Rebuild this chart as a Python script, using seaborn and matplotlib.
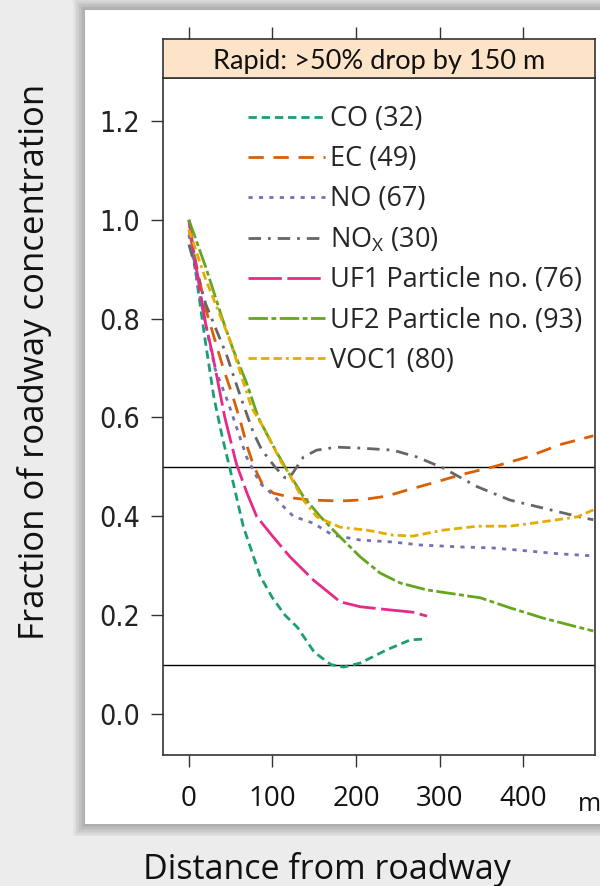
import pandas as pd
import seaborn as sns
import matplotlib.pyplot as plt
from matplotlib.patches import Rectangle

# values (distance in m, fraction of roadway value)
co_dist = [0, 10, 20, 30, 40, 50, 65, 85, 100, 115, 130, 150, 170, 185, 205, 237, 265, 285]
co_frac = [1.0, 0.87, 0.75, 0.64, 0.56, 0.49, 0.38, 0.28, 0.235, 0.2, 0.175, 0.125, 0.1, 0.095, 0.103, 0.13, 0.15, 0.152]

ec_dist = [0, 20, 40, 53, 62, 70, 78, 88, 101, 125, 145, 181, 205, 237, 261, 297, 325, 364, 405, 444, 484]
ec_frac = [0.98, 0.82, 0.706, 0.64, 0.59, 0.54, 0.5, 0.465, 0.447, 0.437, 0.433, 0.431, 0.433, 0.441, 0.453, 0.47, 0.484, 0.5, 0.52, 0.545, 0.563]

no_dist = [0, 15, 31, 47, 58, 69, 85, 101, 113, 125, 149, 172, 205, 244, 277, 325, 364, 405, 444, 484]
no_frac = [0.97, 0.83, 0.70, 0.63, 0.575, 0.52, 0.467, 0.443, 0.42, 0.40, 0.386, 0.362, 0.352, 0.348, 0.342, 0.338, 0.336, 0.33, 0.324, 0.32]

nox_dist = [0, 20, 45, 61, 77, 87, 103, 115, 120, 128, 137, 153, 177, 205, 244, 273, 304, 345, 384, 428, 472, 484]
nox_frac = [0.95, 0.83, 0.727, 0.646, 0.57, 0.535, 0.5, 0.478, 0.477, 0.497, 0.52, 0.534, 0.54, 0.538, 0.534, 0.52, 0.498, 0.46, 0.433, 0.415, 0.397, 0.393]

uf1_dist = [0, 10, 20, 28, 43, 57, 70, 81, 101, 121, 149, 181, 205, 244, 268, 285]
uf1_frac = [1.0, 0.89, 0.79, 0.73, 0.6, 0.505, 0.445, 0.4, 0.358, 0.318, 0.271, 0.227, 0.217, 0.21, 0.206, 0.198]

uf2_dist = [0, 21, 40, 53, 69, 83, 99, 115, 137, 157, 181, 205, 229, 253, 285, 325, 349, 384, 424, 465, 484]
uf2_frac = [1.0, 0.9, 0.8, 0.737, 0.67, 0.6, 0.548, 0.5, 0.44, 0.4, 0.358, 0.318, 0.285, 0.265, 0.251, 0.241, 0.235, 0.215, 0.194, 0.176, 0.168]

voc_dist = [0, 20, 49, 75, 91, 111, 117, 137, 153, 181, 213, 244, 268, 304, 345, 384, 424, 465, 484]
voc_frac = [0.98, 0.88, 0.757, 0.62, 0.575, 0.508, 0.494, 0.433, 0.399, 0.378, 0.372, 0.362, 0.36, 0.372, 0.38, 0.38, 0.389, 0.399, 0.413]

labels = ["CO (32)", "EC (49)", "NO (67)", "NO$_X$ (30)",
          "UF1 Particle no. (76)", "UF2 Particle no. (93)", "VOC1 (80)"]
colors = ["#1b9e77", "#d95f02", "#7570b3", "#666666", "#e7298a", "#66a61e", "#e6ab02"]
dash_list = [(6, 3.5), (11, 7), (3, 4.5), (9, 5, 2, 5), (24, 4), (14, 2.5, 3.5, 2.5),
             (6, 3, 6, 3, 6, 3, 2, 3)]

y_ticks = [0.0, 0.2, 0.4, 0.6, 0.8, 1.0, 1.2]
x_ticks = [0, 100, 200, 300, 400]
ref_levels = [0.1, 0.5]


def build_frame():
    series = [(co_dist, co_frac), (ec_dist, ec_frac), (no_dist, no_frac), (nox_dist, nox_frac),
              (uf1_dist, uf1_frac), (uf2_dist, uf2_frac), (voc_dist, voc_frac)]
    parts = []
    for name, (d, f) in zip(labels, series):
        parts.append(pd.DataFrame({"distance": d, "fraction": f, "pollutant": name}))
    return pd.concat(parts, ignore_index=True)


sns.set_style("white")
plt.rcParams['font.family'] = ['Open Sans', 'DejaVu Sans']
plt.rcParams['mathtext.default'] = 'regular'
plt.rcParams['lines.scale_dashes'] = False

W, H = 600, 886
fig = plt.figure(figsize=(W / 100, H / 100), dpi=100)
fig.patch.set_facecolor("#ececec")

# white card with a soft shadow behind it
for i in range(8, 0, -1):
    fig.patches.append(Rectangle(((85 - i * 1.5) / W, 1 - (824 + i * 1.5) / H), 1.0, (814 + i * 3) / H,
                                 transform=fig.transFigure, facecolor="black", alpha=0.035,
                                 edgecolor="none", zorder=-3))
fig.patches.append(Rectangle((85 / W, 1 - 824 / H), 1.0, 814 / H, transform=fig.transFigure,
                             facecolor="white", edgecolor="none", zorder=-2))

ax = fig.add_axes([163 / W, 1 - 755 / H, (595 - 163) / W, (755 - 78) / H])
strip = fig.add_axes([163 / W, 1 - 78 / H, (595 - 163) / W, 39 / H], sharex=ax)

df = build_frame()
sns.lineplot(data=df, x="distance", y="fraction", hue="pollutant", style="pollutant",
             hue_order=labels, style_order=labels,
             palette=dict(zip(labels, colors)), dashes=dict(zip(labels, dash_list)),
             linewidth=2.0, errorbar=None, ax=ax)

for lvl in ref_levels:
    ax.axhline(lvl, color="black", lw=1.0, zorder=1)

ax.set_xlim(-31, 486)
ax.set_ylim(-0.083, 1.287)
ax.set_yticks(y_ticks)
ax.set_yticklabels([f"{v:.1f}" for v in y_ticks], family="DejaVu Sans", fontstretch="condensed",
                   fontsize=20.5, color="#222222")
ax.set_xticks(x_ticks)
ax.set_xticklabels([str(v) for v in x_ticks], fontsize=20, color="#111111")
ax.tick_params(axis="both", direction="out", length=8.5, width=1, color="#333333")
ax.tick_params(axis="y", pad=8, left=True)
ax.tick_params(axis="x", pad=13, bottom=True)
ax.set_xlabel("")
ax.set_ylabel("")
for sp in ax.spines.values():
    sp.set_color("#333333")
    sp.set_linewidth(1.2)

handles, _ = ax.get_legend_handles_labels()
ax.legend(handles, labels, loc="upper left", bbox_to_anchor=(0.197, 0.96), frameon=False,
          fontsize=19.5, handlelength=2.84, handletextpad=0.18, labelspacing=0.45,
          borderpad=0, borderaxespad=0)

strip.set_facecolor("#fde4c8")
strip.set_yticks([])
strip.tick_params(axis="x", bottom=False, labelbottom=False, top=True, labeltop=False,
                  direction="out", length=8.5, width=1, color="#333333")
for sp in strip.spines.values():
    sp.set_color("#333333")
    sp.set_linewidth(1.2)
strip.text(0.5, 0.42, "Rapid: >50% drop by 150 m", transform=strip.transAxes,
           ha="center", va="center", fontsize=19.5, family=["Lato", "DejaVu Sans"], color="#111111")

fig.text(35 / W, 1 - 362 / H, "Fraction of roadway concentration", rotation=90,
         ha="center", va="center", fontsize=25, color="#111111")
fig.text(327 / W, 1 - 879 / H, "Distance from roadway", ha="center", va="baseline",
         fontsize=24.5, color="#111111")
fig.text(578 / W, 1 - 811 / H, "m", ha="left", va="baseline", fontsize=18, color="#111111")

fig.savefig("out.png", dpi=100, facecolor=fig.get_facecolor())
